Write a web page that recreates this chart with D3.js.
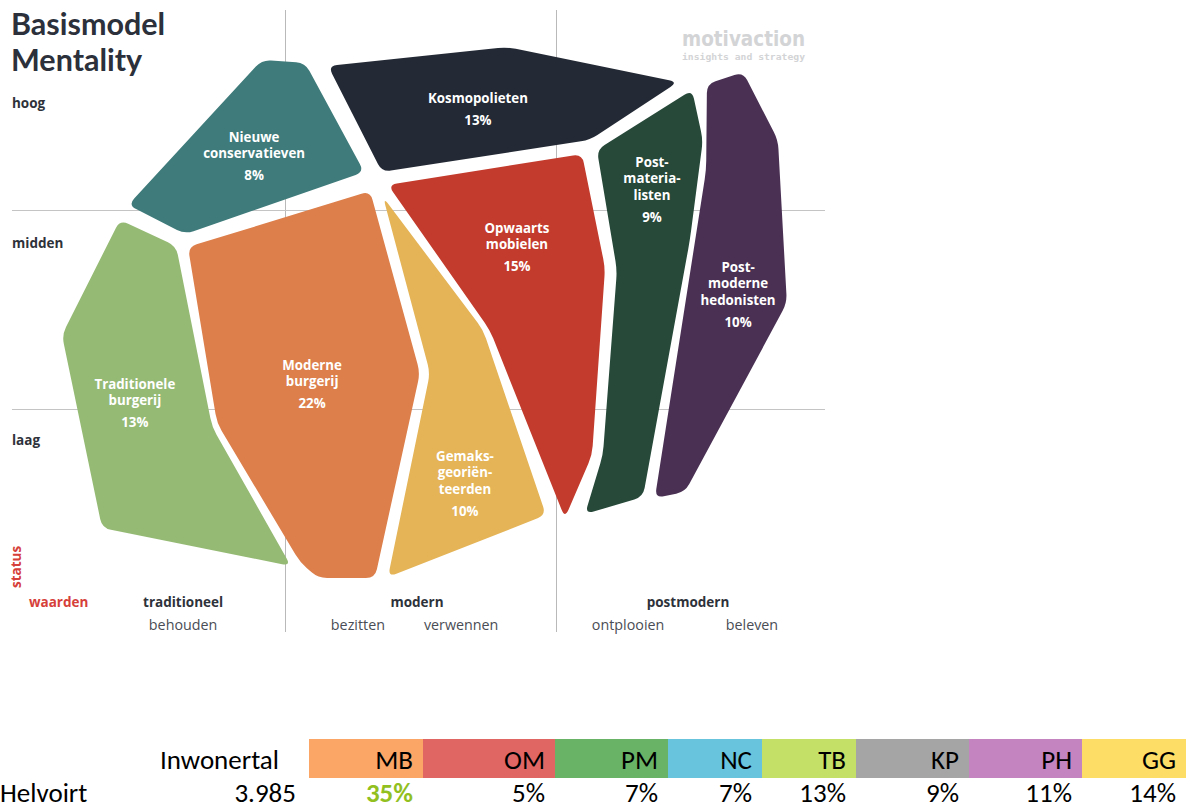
<!DOCTYPE html>
<html>
<head>
<meta charset="utf-8">
<script src="https://cdn.jsdelivr.net/npm/d3@7"></script>
<style>
  html, body { margin: 0; padding: 0; background: #fff; }
  svg { display: block; }
</style>
</head>
<body>
<svg id="chart" width="1186" height="809"></svg>
<script>
// ---------------- DATA ----------------
// Mentality segments: model space, x = values axis (0..300, traditioneel|modern|postmodern),
// y = status axis (0..300, laag|midden|hoog)
const segmentNames = ["Nieuwe conservatieven", "Kosmopolieten", "Post-materialisten", "Post-moderne hedonisten",
  "Opwaarts mobielen", "Moderne burgerij", "Gemaksgeoriënteerden", "Traditionele burgerij"];
const segmentLabelLines = [
  ["Nieuwe", "conservatieven"], ["Kosmopolieten"], ["Post-", "materia-", "listen"], ["Post-", "moderne", "hedonisten"],
  ["Opwaarts", "mobielen"], ["Moderne", "burgerij"], ["Gemaks-", "georiën-", "teerden"], ["Traditionele", "burgerij"]
];
const segmentShares = [8, 13, 9, 10, 15, 22, 10, 13];
const segmentShapes = [
  [[91.5,275.4],[107.4,273.9],[129.2,219.1],[63.1,187.9],[42.1,202.5]],
  [[115.9,272.4],[181.9,281.9],[245.0,264.3],[212.5,235.2],[135.8,219.1]],
  [[215.1,230.2],[250.2,260.3],[254.2,235.2],[249.4,184.9],[232.1,55.8],[210.7,47.2],[217.3,76.9],[222.5,169.8]],
  [[255.7,263.3],[269.0,269.3],[281.9,235.2],[285.2,153.3],[247.6,58.3],[236.5,55.3],[255.4,220.1]],
  [[138.0,212.6],[209.6,228.1],[218.1,170.9],[213.3,76.9],[203.3,45.2],[175.6,139.7]],
  [[64.2,181.4],[131.4,209.5],[149.8,118.1],[133.2,15.1],[112.2,15.1],[105.5,23.1],[74.9,93.0]],
  [[136.2,206.5],[173.1,139.7],[196.3,46.7],[138.0,15.6],[153.5,118.1]],
  [[39.1,195.0],[59.8,181.9],[73.1,91.0],[102.2,21.1],[32.5,40.2],[17.7,137.2]]
];
const segmentLabelAnchors = [[88.6,236.7],[171.2,256.3],[235.4,224.1],[267.2,171.4],[185.6,191.0],[110.0,122.1],[166.4,76.4],[44.6,112.6]];

const statusLabels = ["hoog", "midden", "laag"];
const statusLabelPos = [253.8, 183.4, 84.4];
const valueGroups = ["traditioneel", "modern", "postmodern"];
const valueGroupPos = [62.4, 148.7, 248.7];
const valueSubs = ["behouden", "bezitten", "verwennen", "ontplooien", "beleven"];
const valueSubPos = [62.4, 126.9, 165.0, 226.6, 272.3];
const gridX = [100, 200];
const gridY = [100, 200];

// Table
const tableCodes = ["MB", "OM", "PM", "NC", "TB", "KP", "PH", "GG"];
const tablePlace = "Helvoirt";
const tablePopulationHeader = "Inwonertal";
const tablePopulation = "3.985";
const tableShares = [35, 5, 7, 7, 13, 9, 11, 14];

// ---------------- LAYOUT / STYLE ----------------
const segmentColors = ["#3e7b7a", "#242a35", "#26493a", "#4a3154", "#c33b2c", "#dc7f4b", "#e4b457", "#95ba74"];
const tableColors = ["#fba566", "#e06664", "#69b366", "#67c4dc", "#c5e066", "#a5a5a5", "#c384bf", "#fedd66"];
const colWidths = [114, 132, 113, 94, 94, 113, 113, 104];
const labelFont = "'Open Sans', 'Noto Sans', sans-serif";

const svg = d3.select("#chart");
const x = d3.scaleLinear().domain([0, 300]).range([14, 827]);
const y = d3.scaleLinear().domain([0, 300]).range([608, 11]);

// grid
const g = svg.append("g");
g.selectAll("line.gx").data(gridX).join("line")
  .attr("x1", d => x(d)).attr("x2", d => x(d)).attr("y1", 10).attr("y2", 632)
  .attr("stroke", "#b9b9b9").attr("stroke-width", 1).attr("shape-rendering", "crispEdges");
g.selectAll("line.gy").data(gridY).join("line")
  .attr("x1", 12).attr("x2", 825).attr("y1", d => y(d)).attr("y2", d => y(d))
  .attr("stroke", "#c4c4c4").attr("stroke-width", 1).attr("shape-rendering", "crispEdges");

function roundedPath(pts, r) {
  const n = pts.length;
  let d = "";
  for (let i = 0; i < n; i++) {
    const p = pts[i], pr = pts[(i - 1 + n) % n], nx = pts[(i + 1) % n];
    const v1 = [pr[0] - p[0], pr[1] - p[1]], v2 = [nx[0] - p[0], nx[1] - p[1]];
    const l1 = Math.hypot(v1[0], v1[1]), l2 = Math.hypot(v2[0], v2[1]);
    const r1 = Math.min(r, l1 / 2), r2 = Math.min(r, l2 / 2);
    const a = [p[0] + v1[0] / l1 * r1, p[1] + v1[1] / l1 * r1];
    const b = [p[0] + v2[0] / l2 * r2, p[1] + v2[1] / l2 * r2];
    d += (i === 0 ? "M" : "L") + a[0] + "," + a[1] + "Q" + p[0] + "," + p[1] + " " + b[0] + "," + b[1];
  }
  return d + "Z";
}

// segments
svg.append("g").selectAll("path").data(segmentShapes).join("path")
  .attr("d", s => roundedPath(s.map(p => [x(p[0]), y(p[1])]), 9))
  .attr("fill", (d, i) => segmentColors[i]);

// segment labels
const lbl = svg.append("g").attr("font-family", labelFont).attr("font-weight", 700)
  .attr("font-size", 13.3).attr("fill", "#fff").attr("text-anchor", "middle");
segmentLabelAnchors.forEach((a, i) => {
  const cx = x(a[0]), cy = y(a[1]);
  const lines = segmentLabelLines[i];
  lines.forEach((t, j) => {
    lbl.append("text").attr("x", cx).attr("y", cy + j * 16.8).attr("dy", "0.35em").text(t);
  });
  lbl.append("text").attr("x", cx).attr("y", cy + (lines.length - 1) * 16.8 + 22).attr("dy", "0.35em")
    .text(segmentShares[i] + "%");
});

// title
const title = svg.append("g").attr("font-family", "Lato, sans-serif").attr("font-weight", 700)
  .attr("font-size", 30.5).attr("fill", "#2b303a");
title.append("text").attr("x", 11).attr("y", 35).text("Basismodel");
title.append("text").attr("x", 11).attr("y", 71).text("Mentality");

// logo
svg.append("text").attr("x", 805).attr("y", 46).attr("text-anchor", "end")
  .attr("font-family", "'DejaVu Sans Condensed', 'DejaVu Sans', sans-serif").attr("font-weight", 700)
  .attr("font-size", 21).attr("fill", "#d3d4d6").attr("textLength", 123).attr("lengthAdjust", "spacingAndGlyphs")
  .text("motivaction");
svg.append("text").attr("x", 805).attr("y", 60).attr("text-anchor", "end")
  .attr("font-family", "'DejaVu Sans Mono', monospace").attr("font-weight", 700)
  .attr("font-size", 9).attr("fill", "#d3d4d6").attr("textLength", 123).attr("lengthAdjust", "spacingAndGlyphs")
  .text("insights and strategy");

// status labels
svg.append("g").selectAll("text").data(statusLabels).join("text")
  .attr("x", 12).attr("y", (d, i) => y(statusLabelPos[i])).attr("dy", "0.35em")
  .attr("font-family", labelFont).attr("font-weight", 700).attr("font-size", 13.5)
  .attr("fill", "#2e323a").text(d => d);

svg.append("text").attr("transform", "translate(21,567) rotate(-90)").attr("text-anchor", "middle")
  .attr("font-family", labelFont).attr("font-weight", 700).attr("font-size", 13.5)
  .attr("fill", "#d6403a").text("status");
svg.append("text").attr("x", 29).attr("y", 602).attr("dy", "0.35em")
  .attr("font-family", labelFont).attr("font-weight", 700).attr("font-size", 13.5)
  .attr("fill", "#d6403a").text("waarden");

svg.append("g").selectAll("text").data(valueGroups).join("text")
  .attr("x", (d, i) => x(valueGroupPos[i])).attr("y", 602).attr("dy", "0.35em").attr("text-anchor", "middle")
  .attr("font-family", labelFont).attr("font-weight", 700).attr("font-size", 13.5)
  .attr("fill", "#2e323a").text(d => d);
svg.append("g").selectAll("text").data(valueSubs).join("text")
  .attr("x", (d, i) => x(valueSubPos[i])).attr("y", 625).attr("dy", "0.35em").attr("text-anchor", "middle")
  .attr("font-family", labelFont).attr("font-size", 14.3)
  .attr("fill", "#4a4d55").text(d => d);

// ---------------- TABLE ----------------
const tableX0 = 309;
const starts = colWidths.map((w, i) => tableX0 + d3.sum(colWidths.slice(0, i)));
const tfont = "Carlito, Calibri, 'Open Sans', sans-serif";
const tsize = 27;
const headY = 769;
const rowY = 801.5;
const tbl = svg.append("g");
tbl.selectAll("rect").data(tableCodes).join("rect")
  .attr("x", (d, i) => starts[i]).attr("y", 739).attr("width", (d, i) => colWidths[i]).attr("height", 39)
  .attr("fill", (d, i) => tableColors[i]);
tbl.selectAll("text.code").data(tableCodes).join("text").attr("class", "code")
  .attr("x", (d, i) => starts[i] + colWidths[i] - 10).attr("y", headY).attr("text-anchor", "end")
  .attr("font-family", tfont).attr("font-size", tsize).attr("fill", "#000").text(d => d);
tbl.selectAll("text.val").data(tableShares).join("text").attr("class", "val")
  .attr("x", (d, i) => starts[i] + colWidths[i] - 10).attr("y", rowY).attr("text-anchor", "end")
  .attr("font-family", tfont).attr("font-size", tsize)
  .attr("font-weight", (d, i) => i === 0 ? 700 : 400)
  .attr("fill", (d, i) => i === 0 ? "#92c01f" : "#000").text(d => d + "%");
tbl.append("text").attr("x", 279).attr("y", headY).attr("text-anchor", "end")
  .attr("font-family", tfont).attr("font-size", tsize).attr("fill", "#000").text(tablePopulationHeader);
tbl.append("text").attr("x", 296).attr("y", rowY).attr("text-anchor", "end")
  .attr("font-family", tfont).attr("font-size", tsize).attr("fill", "#000").text(tablePopulation);
tbl.append("text").attr("x", 0).attr("y", rowY)
  .attr("font-family", tfont).attr("font-size", tsize).attr("fill", "#000").text(tablePlace);
</script>
</body>
</html>
